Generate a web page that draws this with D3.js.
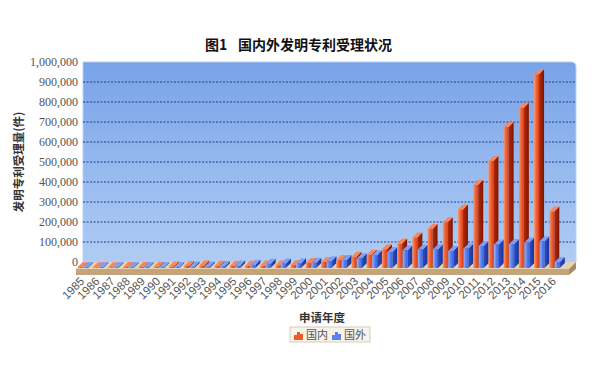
<!DOCTYPE html>
<html><head><meta charset="utf-8">
<script src="https://cdn.jsdelivr.net/npm/d3@7"></script>
<style>body{margin:0;background:#fff}svg{display:block}</style>
</head><body><svg id="c" width="600" height="370"></svg>
<script>
const years = ["1985","1986","1987","1988","1989","1990","1991","1992","1993","1994","1995","1996","1997","1998","1999","2000","2001","2002","2003","2004","2005","2006","2007","2008","2009","2010","2011","2012","2013","2014","2015","2016"];
const domestic = [4065,3494,4084,4780,4920,5832,7372,10066,12935,11191,10018,11471,12713,13726,15596,25346,30038,39806,56769,65786,93485,122318,153060,194579,229096,293066,415829,535313,704936,801135,968251,283000];
const foreign = [4493,4515,4500,4800,4700,4600,5200,7000,7700,9600,11900,16500,21300,22000,23800,26600,33400,40400,48500,64300,79800,88200,92100,94300,85500,98100,110600,117500,120200,127000,133600,30000];
const yTicks = [0,100000,200000,300000,400000,500000,600000,700000,800000,900000,1000000];
const seriesNames = ["国内","国外"];

const svg = d3.select("#c");
const defs = svg.append("defs");
function lg(id, stops, x2, y2){
  const g = defs.append("linearGradient").attr("id",id).attr("x1",0).attr("y1",0).attr("x2",x2).attr("y2",y2);
  stops.forEach(s=>g.append("stop").attr("offset",s[0]).attr("stop-color",s[1]));
}
lg("wall",[[0,"#78a3e8"],[1,"#b0ccf4"]],0,1);
lg("redF",[[0,"#f79a72"],[0.5,"#ee6236"],[1,"#d8401a"]],1,0);
lg("redS",[[0,"#b52a0a"],[1,"#7e1400"]],1,0);
lg("bluF",[[0,"#9cb6fa"],[0.5,"#5b82ee"],[1,"#3c63d8"]],1,0);
lg("bluS",[[0,"#2b4fc0"],[1,"#17329a"]],1,0);

const DX = 7, DY = 7;            // depth of wall/floor
const wallL = 83, wallR = 576;
const y = d3.scaleLinear().domain([0,1000000]).range([262,62]);
const x = d3.scaleBand().domain(years).range([76,563]).padding(0);
const yb = d3.scaleLinear().domain([0,1000000]).range([268,68]);

// wall
svg.append("path").attr("d",`M${wallL},${y(1000000)} H${wallR-5} Q${wallR},${y(1000000)} ${wallR},${y(1000000)+5} V${y(0)} H${wallL} Z`)
  .attr("fill","url(#wall)").attr("stroke","#b9d0f3").attr("stroke-width",1);

// grid
svg.append("g").selectAll("line").data(yTicks.filter(t=>t>0 && t<1000000)).join("line")
  .attr("x1",wallL).attr("x2",wallR-1).attr("y1",d=>y(d)).attr("y2",d=>y(d))
  .attr("stroke","#1c3d8c").attr("stroke-width",1).attr("stroke-dasharray","2,1.5");

// y axis labels
const yAxis = d3.axisLeft(y).tickValues(yTicks).tickFormat(d3.format(",")).tickSize(0).tickPadding(4);
const ga = svg.append("g").attr("transform",`translate(${wallL-1},0)`).call(yAxis);
ga.select(".domain").remove();
ga.selectAll("text").attr("font-family","'Liberation Serif',serif").attr("font-size",12).attr("fill","#555");

// floor
const fl = 76, fr = 569, ft = 269;
svg.append("path").attr("d",`M${fl},${ft} L${fl+DX},${ft-DY} L${fr+DX},${ft-DY} L${fr},${ft} Z`).attr("fill","#e3d3b4");
svg.append("rect").attr("x",fl).attr("y",ft).attr("width",fr-fl).attr("height",6).attr("fill","#c4a57b");
svg.append("path").attr("d",`M${fr},${ft} L${fr+DX},${ft-DY} L${fr+DX},${ft} L${fr},${ft+6} Z`).attr("fill","#a88b62");

// bars
const bw = 5, bd = 5;
function bar(g, xx, v, front, side, top){
  const y0 = yb(0), y1 = yb(v);
  g.append("rect").attr("x",xx).attr("y",y1).attr("width",bw).attr("height",y0-y1).attr("fill",front);
  g.append("path").attr("d",`M${xx+bw},${y1} L${xx+bw+bd},${y1-bd} L${xx+bw+bd},${y0-bd} L${xx+bw},${y0} Z`).attr("fill",side);
  g.append("path").attr("d",`M${xx},${y1} L${xx+bd},${y1-bd} L${xx+bw+bd},${y1-bd} L${xx+bw},${y1} Z`).attr("fill",top);
}
const gb = svg.append("g");
years.forEach((yr,i)=>{
  const x0 = x(yr) + 1.5;
  bar(gb, x0, domestic[i], "url(#redF)", "url(#redS)", "#f4875e");
  bar(gb, x0+bw+0.5, foreign[i], "url(#bluF)", "url(#bluS)", "#7f9ff5");
});

// x labels
svg.append("g").selectAll("text").data(years).join("text")
  .attr("transform",d=>`translate(${x(d)+9},${282}) rotate(-45)`)
  .attr("text-anchor","end").attr("font-family","'Liberation Sans',sans-serif").attr("font-size",11.5).attr("fill","#555")
  .text(d=>d);

// titles
const t = svg.append("text").attr("y",50)
  .attr("font-family","'Noto Sans CJK SC',sans-serif").attr("font-weight","bold").attr("font-size",14).attr("fill","#111");
t.append("tspan").attr("x",205).text("图1");
t.append("tspan").attr("x",238).text("国内外发明专利受理状况");
svg.append("text").attr("transform","translate(23,162) rotate(-90)").attr("text-anchor","middle")
  .attr("font-family","'Noto Sans CJK SC',sans-serif").attr("font-weight","bold").attr("font-size",11.5).attr("fill","#333")
  .text("发明专利受理量(件)");
svg.append("text").attr("x",322).attr("y",322).attr("text-anchor","middle")
  .attr("font-family","'Noto Sans CJK SC',sans-serif").attr("font-weight","bold").attr("font-size",11.5).attr("fill","#333")
  .text("申请年度");

// legend
const lgG = svg.append("g").attr("transform","translate(290,327)");
lgG.append("rect").attr("width",80).attr("height",15).attr("fill","#f7f2ea").attr("stroke","#d9ccb8");
const iconCols = [["#ee5a2a","#b32a08"],["#5b82ee","#2b4fc0"]];
seriesNames.forEach((n,i)=>{
  const gx = 4 + i*38;
  const ic = lgG.append("g").attr("transform",`translate(${gx},3)`);
  [[0,5,3],[3,2,3],[6,4,3]].forEach(b=>{
    ic.append("rect").attr("x",b[0]).attr("y",b[1]).attr("width",b[2]).attr("height",10-b[1]).attr("fill",iconCols[i][0]);
  });
  lgG.append("text").attr("x",gx+12).attr("y",11.5).attr("font-family","'Noto Sans CJK SC',sans-serif")
    .attr("font-size",11).attr("fill","#555").text(n);
});
</script></body></html>
